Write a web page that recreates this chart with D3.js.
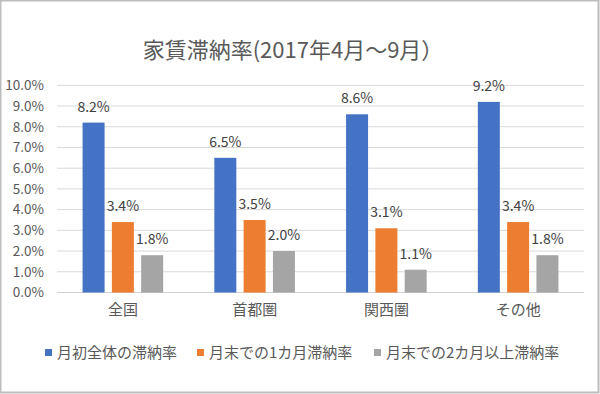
<!DOCTYPE html>
<html><head><meta charset="utf-8">
<script src="https://cdn.jsdelivr.net/npm/d3@7"></script>
<style>body{margin:0;background:#fff}svg{display:block}text{font-family:"Noto Sans CJK JP","Noto Sans",sans-serif}</style>
</head><body><svg id="c" width="600" height="394"></svg>
<script>
const title = "家賃滞納率(2017年4月～9月）";
const categories = ["全国","首都圏","関西圏","その他"];
const seriesNames = ["月初全体の滞納率","月末での1カ月滞納率","月末での2カ月以上滞納率"];
const s1 = [8.2, 6.5, 8.6, 9.2];
const s2 = [3.4, 3.5, 3.1, 3.4];
const s3 = [1.8, 2.0, 1.1, 1.8];
const yTicks = [0,1,2,3,4,5,6,7,8,9,10];
const colors = ["#4472C4","#ED7D31","#A5A5A5"];
const series = [s1,s2,s3];

(function(){
const FF = '"Noto Sans CJK JP","Noto Sans",sans-serif';
const svg = d3.select("#c");
svg.append("rect").attr("x",0.5).attr("y",0.5).attr("width",598).attr("height",392)
  .attr("fill","#fff").attr("stroke","#bdbdbd").attr("stroke-width",2);

const pL=57, pR=584, pT=85.3, pB=292.5;
const x0 = d3.scaleBand().domain(categories).range([pL,pR]);
const y = d3.scaleLinear().domain([0,10]).range([pB,pT]);
const barW = 22, gap = 7.3;
const x1 = d3.scaleBand().domain([0,1,2]).range([-(barW*1.5+gap),(barW*1.5+gap)]).paddingInner(gap/(barW+gap)).paddingOuter(0);

svg.append("text").attr("x",293).attr("y",58).attr("text-anchor","middle")
  .attr("font-size",22).attr("fill","#595959").text(title);

const grid = svg.append("g");
grid.selectAll("line").data(yTicks).join("line")
  .attr("x1",pL).attr("x2",pR).attr("y1",d=>y(d)).attr("y2",d=>y(d))
  .attr("stroke",d=>d===0?"#d0d0d0":"#d9d9d9").attr("stroke-width",1);

const yAxis = d3.axisLeft(y).tickValues(yTicks).tickFormat(d=>d.toFixed(1)+"%").tickSize(0).tickPadding(0);
const ya = svg.append("g").attr("transform",`translate(44,0)`).call(yAxis);
ya.select(".domain").remove();
ya.selectAll("text").attr("font-size",13.5).attr("fill","#595959").attr("font-family",FF);

const xAxis = d3.axisBottom(x0).tickSize(0).tickPadding(0);
const xa = svg.append("g").attr("transform",`translate(0,${pB+12})`).call(xAxis);
xa.select(".domain").remove();
xa.selectAll("text").attr("font-size",15).attr("fill","#595959").attr("font-family",FF);

series.forEach((vals,si)=>{
  const g = svg.append("g");
  g.selectAll("rect").data(vals).join("rect")
    .attr("x",(d,i)=>x0(categories[i])+x0.bandwidth()/2+x1(si))
    .attr("width",x1.bandwidth())
    .attr("y",d=>y(d)).attr("height",d=>y(0)-y(d))
    .attr("fill",colors[si]);
  g.selectAll("text").data(vals).join("text")
    .attr("x",(d,i)=>x0(categories[i])+x0.bandwidth()/2+x1(si)+x1.bandwidth()/2)
    .attr("y",d=>y(d)-11).attr("text-anchor","middle")
    .attr("font-size",14).attr("fill","#404040").text(d=>d.toFixed(1)+"%");
});

const legX = [45,197,374];
const lg = svg.append("g");
seriesNames.forEach((n,i)=>{
  lg.append("rect").attr("x",legX[i]).attr("y",349).attr("width",7).attr("height",7).attr("fill",colors[i]);
  lg.append("text").attr("x",legX[i]+12).attr("y",358).attr("font-size",15).attr("fill","#595959").text(n);
});
})();
</script></body></html>
